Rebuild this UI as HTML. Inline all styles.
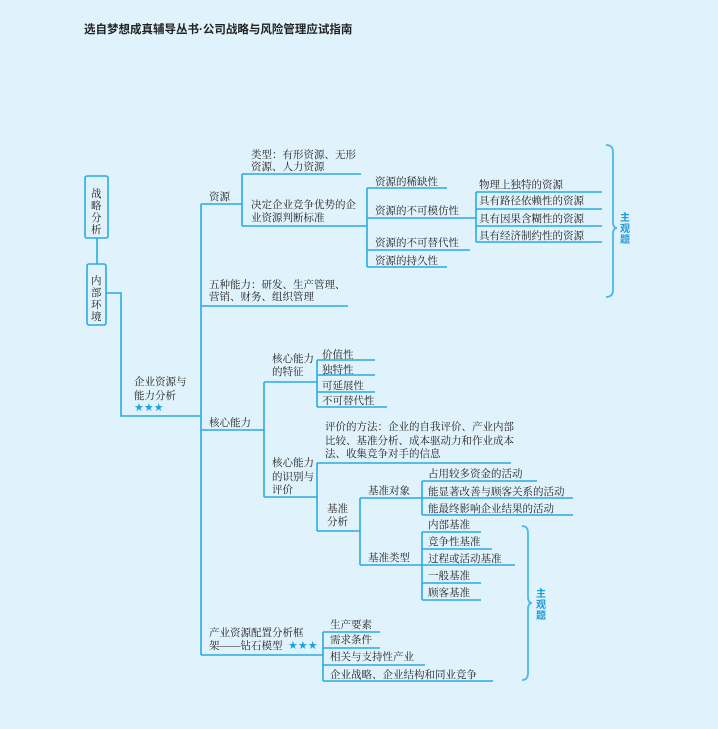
<!DOCTYPE html>
<html><head><meta charset="utf-8"><style>
html,body{margin:0;padding:0;}
body{width:718px;height:729px;background:#e0f2fb;overflow:hidden;}
svg{display:block;}
text{font-family:"Liberation Serif","Noto Serif CJK SC",serif;font-size:10.5px;fill:#222;}
.t{font-family:"Liberation Sans","Noto Sans CJK SC",sans-serif;font-weight:bold;font-size:11.5px;fill:#222;}
.z{font-family:"Liberation Sans","Noto Sans CJK SC",sans-serif;font-weight:bold;font-size:10px;fill:#1a9ad6;}
.s{fill:#1aa3e0;font-family:"DejaVu Sans",sans-serif;font-size:11px;}
</style></head><body>
<svg width="718" height="729" viewBox="0 0 718 729">
<text class="t" x="84" y="33">选自梦想成真辅导丛书·公司战略与风险管理应试指南</text>
<g fill="none" stroke="#2aa9e2" stroke-width="1.6">
<rect x="85" y="176" width="23" height="62" rx="2"/>
<rect x="87" y="264" width="19" height="61" rx="2"/>
<path d="M97 238V264"/>
<path d="M106 293H121V416H201"/>
<path d="M201 204V655"/>
<path d="M201 204H242M242 174V226M242 174H361M242 226H367"/>
<path d="M367 188V267M367 188H447M367 218H476M367 250H470M367 267H447"/>
<path d="M476 192V242M476 192H602M476 209H602M476 226H602M476 242H602"/>
<path d="M201 306H348"/>
<path d="M201 430H264M264 382V497M264 382H317M317 360V407M317 360H375M317 375H375M317 392H375M317 407H387"/>
<path d="M264 497H317M317 463V531M317 463H511M317 531H360"/>
<path d="M360 498V565M360 498H422M360 565H422M422 481V515M422 481H537M422 498H573M422 515H573"/>
<path d="M422 532V600M422 532H481M422 549H492M422 565H515M422 583H481M422 600H481"/>
<path d="M201 655H323M323 632V681M323 632H380M323 648H380M323 665H425M323 681H493"/>
</g>
<g fill="none" stroke="#4cb8e8" stroke-width="1.8">
<path d="M606 145Q613 145 613 152V222Q613 228 617 228Q613 228 613 234V290Q613 297 606 297"/>
<path d="M522 526Q528 526 528 533V597Q528 603 532 603Q528 603 528 609V673Q528 680 522 680"/>
</g>
<text class="z" x="620" y="221">主</text><text class="z" x="620" y="232">观</text><text class="z" x="620" y="243">题</text>
<text class="z" x="536" y="597">主</text><text class="z" x="536" y="608">观</text><text class="z" x="536" y="619">题</text>
<text x="91" y="197">战</text><text x="91" y="209">略</text><text x="91" y="221">分</text><text x="91" y="233">析</text>
<text x="91" y="284">内</text><text x="91" y="296">部</text><text x="91" y="308">环</text><text x="91" y="320">境</text>
<text x="134" y="385">企业资源与</text><text x="134" y="399">能力分析</text>
<text class="s" x="134" y="411">★★★</text>
<text x="209" y="200">资源</text>
<text x="251" y="158">类型：有形资源、无形</text><text x="251" y="170">资源、人力资源</text>
<text x="251" y="208">决定企业竞争优势的企</text><text x="251" y="221">业资源判断标准</text>
<text x="375" y="185">资源的稀缺性</text><text x="375" y="214">资源的不可模仿性</text>
<text x="375" y="246">资源的不可替代性</text><text x="375" y="264">资源的持久性</text>
<text x="479" y="188">物理上独特的资源</text><text x="479" y="204">具有路径依赖性的资源</text>
<text x="479" y="222">具有因果含糊性的资源</text><text x="479" y="239">具有经济制约性的资源</text>
<text x="209" y="288">五种能力：研发、生产管理、</text><text x="209" y="300">营销、财务、组织管理</text>
<text x="209" y="426">核心能力</text>
<text x="272" y="362">核心能力</text><text x="272" y="375">的特征</text>
<text x="322" y="358">价值性</text><text x="322" y="373">独特性</text><text x="322" y="389">可延展性</text><text x="322" y="404">不可替代性</text>
<text x="325" y="430">评价的方法：企业的自我评价、产业内部</text>
<text x="325" y="444">比较、基准分析、成本驱动力和作业成本</text>
<text x="325" y="457">法、收集竞争对手的信息</text>
<text x="272" y="466">核心能力</text><text x="272" y="480">的识别与</text><text x="272" y="493">评价</text>
<text x="327" y="512">基准</text><text x="327" y="525">分析</text>
<text x="368" y="494">基准对象</text><text x="368" y="561">基准类型</text>
<text x="428" y="477">占用较多资金的活动</text><text x="428" y="495">能显著改善与顾客关系的活动</text><text x="428" y="512">能最终影响企业结果的活动</text>
<text x="428" y="528">内部基准</text><text x="428" y="545">竞争性基准</text><text x="428" y="562">过程或活动基准</text><text x="428" y="579">一般基准</text><text x="428" y="596">顾客基准</text>
<text x="209" y="636">产业资源配置分析框</text><text x="209" y="649">架——钻石模型</text>
<text class="s" x="288" y="649">★★★</text>
<text x="330" y="628">生产要素</text><text x="330" y="643">需求条件</text><text x="330" y="660">相关与支持性产业</text><text x="330" y="678">企业战略、企业结构和同业竞争</text>
</svg>
</body></html>
